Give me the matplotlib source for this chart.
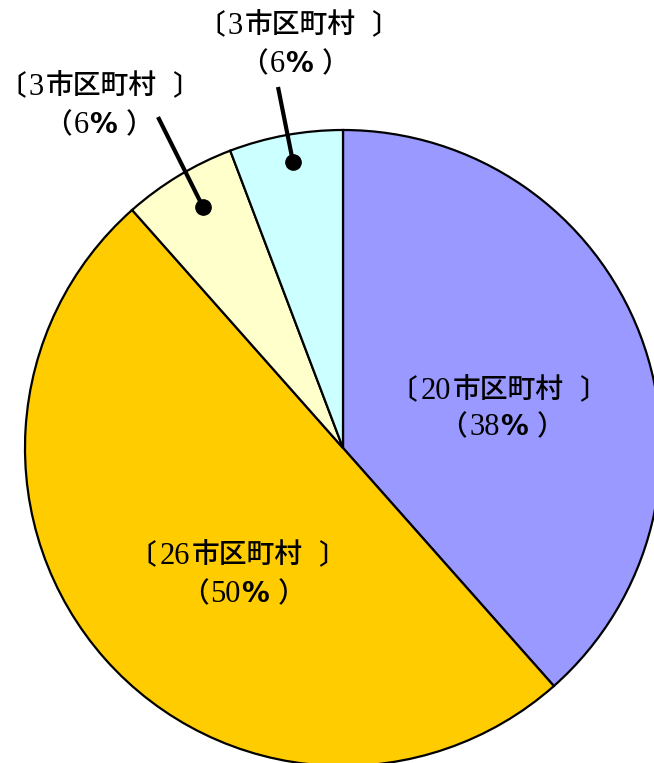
import matplotlib
matplotlib.use("Agg")
import matplotlib.pyplot as plt
from matplotlib.font_manager import FontProperties

# Number of municipalities in each group
counts = [20, 26, 3, 3]
colors = ["#9999FF", "#FFCC00", "#FFFFCC", "#CCFFFF"]
unit = "市区町村"

W, H = 654, 763
fig = plt.figure(figsize=(W / 100, H / 100), dpi=100)
ax = fig.add_axes([0, 0, 1, 1])

cx, cy, r = 343, H - 448, 318
ax.pie(counts, colors=colors, startangle=90, counterclock=False,
       center=(cx, cy), radius=r, frame=True,
       wedgeprops=dict(edgecolor="black", linewidth=1.6))
ax.set_xlim(0, W)
ax.set_ylim(0, H)
ax.set_aspect("equal")
ax.axis("off")

total = sum(counts)
pcts = [round(c / total * 100) for c in counts]

fp_num = FontProperties(family="Liberation Serif", size=22)
fp_cjk = FontProperties(family="Noto Sans CJK JP", size=20, weight="medium")
fp_pct = FontProperties(family="DejaVu Sans", size=20, weight="bold")

renderer = fig.canvas.get_renderer()


def draw_runs(xc, baseline, runs):
    """Lay out (text, font, gap_after_px) runs left to right, centred on xc."""
    placed = []
    width = 0.0
    for s, fp, gap in runs:
        t = ax.text(0, baseline, s, fontproperties=fp, ha="left",
                    va="baseline", color="black")
        w = t.get_window_extent(renderer).width
        placed.append((t, w, gap))
        width += w + gap
    width -= placed[-1][2]
    x = xc - width / 2
    for t, w, gap in placed:
        t.set_x(x)
        x += w + gap


def draw_label(i, xc1, base1, xc2, base2):
    draw_runs(xc1, base1, [("〔", fp_cjk, 3), (str(counts[i]), fp_num, 2),
                           (unit, fp_cjk, 15), ("〕", fp_cjk, 0)])
    draw_runs(xc2, base2, [("（", fp_cjk, 2), (str(pcts[i]), fp_num, 0),
                           ("%", fp_pct, 9), ("）", fp_cjk, 0)])


# Labels inside the two large wedges
draw_label(0, 498, H - 399, 502, H - 435)
draw_label(1, 237, H - 564, 243, H - 602)

# Labels outside the two small wedges
draw_label(2, 99, H - 95, 99, H - 133)
draw_label(3, 298, H - 34, 295, H - 72)

# Leader lines from the small wedges to their labels
leaders = [((203, H - 207), (158, H - 117)),
           ((293, H - 162), (278, H - 87))]
for dot, end in leaders:
    ax.plot([dot[0], end[0]], [dot[1], end[1]], color="black", lw=3,
            solid_capstyle="butt")
    ax.plot(dot[0], dot[1], "o", color="black", markersize=11)

fig.savefig("out.png", dpi=100)
